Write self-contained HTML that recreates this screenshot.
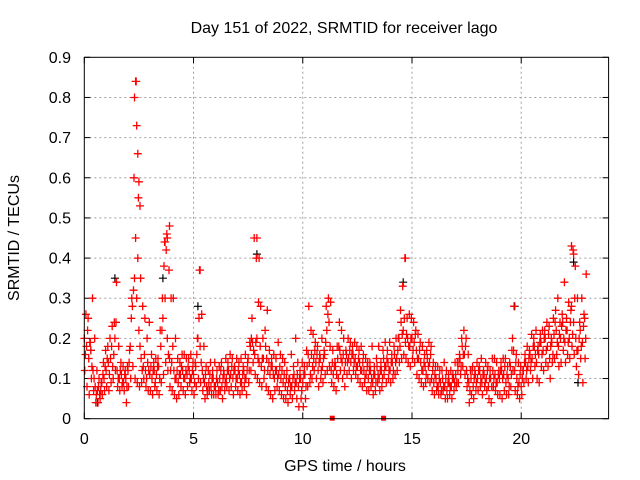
<!DOCTYPE html>
<html><head><meta charset="utf-8"><style>
body{margin:0;background:#fff}
svg{display:block;font-family:"Liberation Sans",sans-serif;font-size:16px}
</style></head><body>
<svg id="chart" width="640" height="480">
<rect width="640" height="480" fill="#fff"/>
<text x="344" y="33" text-anchor="middle">Day 151 of 2022, SRMTID for receiver lago</text>
<text x="345" y="471" text-anchor="middle">GPS time / hours</text>
<text transform="translate(19,238) rotate(-90)" text-anchor="middle">SRMTID / TECUs</text>
<g id="grid"></g>
<g id="ticks"></g>
<g id="marks"></g>
<rect x="84.3" y="57.3" width="524.3" height="361.4" fill="none" stroke="#000" stroke-width="1"/>
</svg>
<script>
const xTicks=[0,5,10,15,20];
const yTicks=[0,0.1,0.2,0.3,0.4,0.5,0.6,0.7,0.8,0.9];
const yTickLabels=["0","0.1","0.2","0.3","0.4","0.5","0.6","0.7","0.8","0.9"];
const timeStep=0.1;
const midVals=[0.20,0.18,0.15,0.17,0.12,0.08,0.07,0.06,0.09,0.10,
0.12,0.14,0.15,0.13,0.20,0.12,0.10,0.11,0.09,0.10,
0.12,0.18,0.28,0.35,0.30,0.22,0.15,0.13,0.12,0.14,
0.11,0.10,0.12,0.11,0.13,0.18,0.25,0.30,0.20,0.15,
0.14,0.12,0.10,0.09,0.11,0.12,0.10,0.11,0.12,0.10,
0.11,0.13,0.20,0.18,0.12,0.09,0.08,0.09,0.08,0.10,
0.08,0.09,0.10,0.08,0.11,0.10,0.12,0.11,0.10,0.12,
0.10,0.11,0.09,0.12,0.10,0.15,0.18,0.19,0.16,0.20,
0.14,0.13,0.15,0.18,0.12,0.11,0.13,0.10,0.12,0.11,
0.10,0.09,0.08,0.07,0.10,0.08,0.11,0.09,0.08,0.10,
0.09,0.11,0.13,0.14,0.16,0.15,0.14,0.12,0.15,0.13,
0.16,0.22,0.24,0.12,0.11,0.13,0.15,0.17,0.14,0.12,
0.16,0.15,0.14,0.16,0.15,0.13,0.14,0.12,0.12,0.11,
0.10,0.12,0.09,0.11,0.13,0.10,0.12,0.15,0.13,0.14,
0.12,0.14,0.16,0.15,0.20,0.24,0.22,0.19,0.20,0.18,
0.20,0.19,0.17,0.15,0.14,0.12,0.13,0.15,0.14,0.10,
0.09,0.10,0.08,0.09,0.10,0.08,0.07,0.09,0.08,0.10,
0.11,0.12,0.15,0.18,0.16,0.12,0.09,0.10,0.08,0.11,
0.10,0.12,0.09,0.11,0.10,0.08,0.10,0.12,0.11,0.09,
0.10,0.12,0.11,0.09,0.10,0.13,0.20,0.12,0.10,0.09,
0.08,0.12,0.14,0.13,0.16,0.15,0.18,0.14,0.16,0.19,
0.17,0.20,0.18,0.15,0.19,0.21,0.22,0.18,0.20,0.24,
0.19,0.22,0.20,0.28,0.24,0.20,0.17,0.22,0.19,0.25];
const mid2Vals=[0.16,0.22,0.19,0.13,0.10,0.06,0.08,0.07,0.11,0.13,
0.15,0.11,0.18,0.16,0.24,0.10,0.12,0.09,0.11,0.08,
0.14,0.25,0.32,0.45,0.40,0.18,0.12,0.16,0.10,0.12,
0.13,0.12,0.09,0.13,0.10,0.22,0.38,0.42,0.16,0.12,
0.18,0.10,0.12,0.11,0.13,0.10,0.12,0.13,0.10,0.12,
0.09,0.16,0.25,0.14,0.10,0.11,0.07,0.11,0.10,0.08,
0.10,0.07,0.12,0.10,0.09,0.12,0.10,0.13,0.12,0.10,
0.12,0.09,0.11,0.10,0.12,0.12,0.20,0.17,0.19,0.15,
0.18,0.15,0.12,0.15,0.14,0.13,0.11,0.12,0.10,0.13,
0.12,0.11,0.10,0.09,0.08,0.10,0.09,0.11,0.10,0.07,
0.11,0.08,0.16,0.11,0.13,0.17,0.16,0.14,0.12,0.15,
0.19,0.26,0.18,0.14,0.13,0.11,0.18,0.15,0.16,0.14,
0.14,0.17,0.16,0.14,0.13,0.15,0.12,0.14,0.10,0.13,
0.12,0.10,0.11,0.09,0.11,0.12,0.10,0.13,0.15,0.12,
0.14,0.12,0.14,0.17,0.18,0.21,0.25,0.21,0.18,0.20,
0.17,0.21,0.15,0.17,0.12,0.14,0.11,0.13,0.16,0.12,
0.11,0.08,0.10,0.07,0.08,0.10,0.09,0.08,0.10,0.09,
0.09,0.14,0.13,0.16,0.18,0.10,0.07,0.12,0.10,0.09,
0.12,0.10,0.11,0.09,0.12,0.10,0.08,0.10,0.09,0.11,
0.12,0.10,0.13,0.11,0.08,0.11,0.17,0.14,0.08,0.11,
0.10,0.14,0.12,0.15,0.14,0.18,0.16,0.17,0.19,0.16,
0.20,0.17,0.21,0.18,0.16,0.24,0.19,0.21,0.23,0.20,
0.22,0.19,0.24,0.21,0.30,0.17,0.20,0.18,0.23,0.20];
const loVals=[0.12,0.08,0.06,0.10,0.07,0.04,0.04,0.05,0.06,0.07,
0.08,0.07,0.09,0.10,0.12,0.08,0.07,0.08,0.07,0.04,
0.08,0.10,0.13,0.10,0.09,0.08,0.09,0.10,0.08,0.07,
0.07,0.06,0.08,0.07,0.06,0.09,0.11,0.14,0.12,0.08,
0.07,0.06,0.05,0.06,0.08,0.07,0.06,0.08,0.09,0.07,
0.06,0.08,0.10,0.09,0.07,0.05,0.06,0.07,0.06,0.06,
0.06,0.06,0.07,0.05,0.07,0.08,0.07,0.08,0.06,0.08,
0.07,0.06,0.07,0.08,0.06,0.09,0.12,0.14,0.11,0.10,
0.09,0.08,0.10,0.08,0.07,0.06,0.05,0.07,0.08,0.07,
0.06,0.05,0.05,0.04,0.06,0.05,0.07,0.05,0.03,0.05,
0.03,0.05,0.08,0.09,0.10,0.12,0.10,0.08,0.10,0.09,
0.11,0.12,0.13,0.09,0.08,0.07,0.10,0.12,0.10,0.08,
0.11,0.12,0.10,0.12,0.11,0.10,0.09,0.08,0.09,0.07,
0.07,0.08,0.06,0.07,0.09,0.07,0.08,0.11,0.09,0.10,
0.09,0.10,0.11,0.12,0.14,0.15,0.16,0.15,0.14,0.13,
0.15,0.14,0.11,0.10,0.09,0.08,0.09,0.10,0.09,0.07,
0.06,0.07,0.06,0.06,0.07,0.05,0.05,0.06,0.05,0.07,
0.08,0.09,0.11,0.13,0.11,0.08,0.04,0.06,0.05,0.07,
0.07,0.08,0.06,0.08,0.07,0.05,0.04,0.08,0.07,0.06,
0.06,0.05,0.07,0.06,0.06,0.08,0.12,0.07,0.06,0.05,
0.06,0.09,0.10,0.09,0.12,0.10,0.13,0.10,0.09,0.13,
0.12,0.14,0.13,0.10,0.14,0.15,0.16,0.13,0.14,0.17,
0.14,0.16,0.15,0.18,0.16,0.13,0.11,0.15,0.09,0.15];
const hiVals=[0.26,0.25,0.19,0.30,0.20,0.12,0.10,0.09,0.14,0.17,
0.18,0.20,0.23,0.24,0.34,0.18,0.14,0.13,0.12,0.13,
0.17,0.30,0.60,0.84,0.55,0.35,0.28,0.25,0.20,0.24,
0.16,0.14,0.15,0.15,0.22,0.30,0.44,0.46,0.37,0.30,
0.30,0.20,0.15,0.14,0.16,0.16,0.15,0.15,0.16,0.14,
0.14,0.20,0.37,0.26,0.18,0.13,0.12,0.14,0.12,0.14,
0.12,0.13,0.14,0.12,0.15,0.14,0.16,0.15,0.13,0.15,
0.14,0.15,0.13,0.16,0.14,0.19,0.25,0.45,0.40,0.29,
0.28,0.20,0.22,0.27,0.17,0.15,0.16,0.15,0.19,0.16,
0.15,0.14,0.12,0.10,0.16,0.13,0.20,0.14,0.12,0.14,
0.13,0.17,0.28,0.22,0.21,0.19,0.18,0.16,0.20,0.17,
0.28,0.30,0.29,0.17,0.14,0.18,0.24,0.22,0.20,0.17,
0.20,0.19,0.18,0.19,0.18,0.17,0.18,0.16,0.15,0.14,
0.14,0.18,0.13,0.15,0.18,0.14,0.17,0.19,0.17,0.19,
0.16,0.18,0.20,0.20,0.27,0.33,0.40,0.25,0.26,0.25,
0.24,0.22,0.21,0.19,0.18,0.16,0.17,0.19,0.18,0.14,
0.13,0.13,0.12,0.12,0.14,0.12,0.11,0.12,0.11,0.14,
0.14,0.16,0.20,0.22,0.20,0.16,0.12,0.13,0.12,0.14,
0.13,0.15,0.12,0.14,0.13,0.12,0.15,0.15,0.14,0.12,
0.14,0.15,0.15,0.13,0.14,0.17,0.28,0.16,0.14,0.13,
0.12,0.16,0.18,0.17,0.21,0.20,0.22,0.18,0.21,0.22,
0.22,0.24,0.23,0.20,0.25,0.27,0.30,0.24,0.26,0.34,
0.25,0.29,0.27,0.42,0.38,0.30,0.24,0.30,0.26,0.36];
const spikeTimes=[2.3,2.35,2.4,2.45,2.5,2.55,3.7,3.8,3.9,5.3,7.9,8.0,14.7,22.3,22.4];
const spikeVals=[0.80,0.84,0.73,0.66,0.59,0.53,0.44,0.45,0.48,0.37,0.45,0.40,0.40,0.43,0.41];
const blackTimes=[0.3,0.6,1.4,3.6,5.2,7.9,14.6,19.7,22.4,22.6];
const blackVals=[0.17,0.04,0.35,0.35,0.28,0.41,0.34,0.28,0.39,0.09];
const zeroTimes=[11.35,13.7];

const X0=84.3,X1=608.6,Y0=418.7,Y1=57.3;
const xs=t=>X0+t/24*(X1-X0);
const ys=v=>Y0-v/0.9*(Y0-Y1);
const NS="http://www.w3.org/2000/svg";
function mk(tag,attrs,parent){const e=document.createElementNS(NS,tag);for(const k in attrs)e.setAttribute(k,attrs[k]);parent.appendChild(e);return e;}
const grid=document.getElementById('grid'),ticks=document.getElementById('ticks'),marks=document.getElementById('marks');
xTicks.forEach(t=>{const x=xs(t);
 if(t>0){const g=mk('line',{x1:x,x2:x,y1:Y0,y2:Y1,stroke:'#a0a0a0','stroke-dasharray':'2,3'},grid);
 
 }
 mk('line',{x1:x,x2:x,y1:Y0,y2:Y0-6,stroke:'#000'},ticks);mk('line',{x1:x,x2:x,y1:Y1,y2:Y1+6,stroke:'#000'},ticks);
 const l=mk('text',{x:x,y:444,'text-anchor':'middle'},ticks);l.textContent=String(t);
 
 });
yTicks.forEach((v,i)=>{const y=ys(v);
 if(i>0&&i<yTicks.length-1){const g=mk('line',{x1:X0,x2:X1,y1:y,y2:y,stroke:'#a0a0a0','stroke-dasharray':'2,3'},grid);
 
 }
 mk('line',{x1:X0,x2:X0+6,y1:y,y2:y,stroke:'#000'},ticks);mk('line',{x1:X1,x2:X1-6,y1:y,y2:y,stroke:'#000'},ticks);
 const l=mk('text',{x:71,y:y+5.5,'text-anchor':'end'},ticks);l.textContent=yTickLabels[i];
 
 });
function cross(x,y){return `M${(x-4).toFixed(1)} ${y.toFixed(1)}h8M${x.toFixed(1)} ${(y-4).toFixed(1)}v8`;}
let dB='';blackTimes.forEach((t,i)=>dB+=cross(xs(t),ys(blackVals[i])));
const pb=mk('path',{d:dB,stroke:'#000',fill:'none','stroke-width':1.2},marks);


let dR='';
midVals.forEach((v,i)=>dR+=cross(xs(i*timeStep),ys(v)));
mid2Vals.forEach((v,i)=>dR+=cross(xs(i*timeStep+0.05),ys(v)));
loVals.forEach((v,i)=>dR+=cross(xs(i*timeStep+0.025),ys(v)));
hiVals.forEach((v,i)=>dR+=cross(xs(i*timeStep+0.075),ys(v)));
spikeTimes.forEach((t,i)=>dR+=cross(xs(t),ys(spikeVals[i])));
const pr=mk('path',{d:dR,stroke:'#ff0000',fill:'none','stroke-width':1.3},marks);


zeroTimes.forEach(t=>{const r=mk('rect',{x:xs(t)-2.5,y:Y0-3,width:5,height:5,fill:'#ff0000'},marks);
 
 });
</script>
</body></html>
